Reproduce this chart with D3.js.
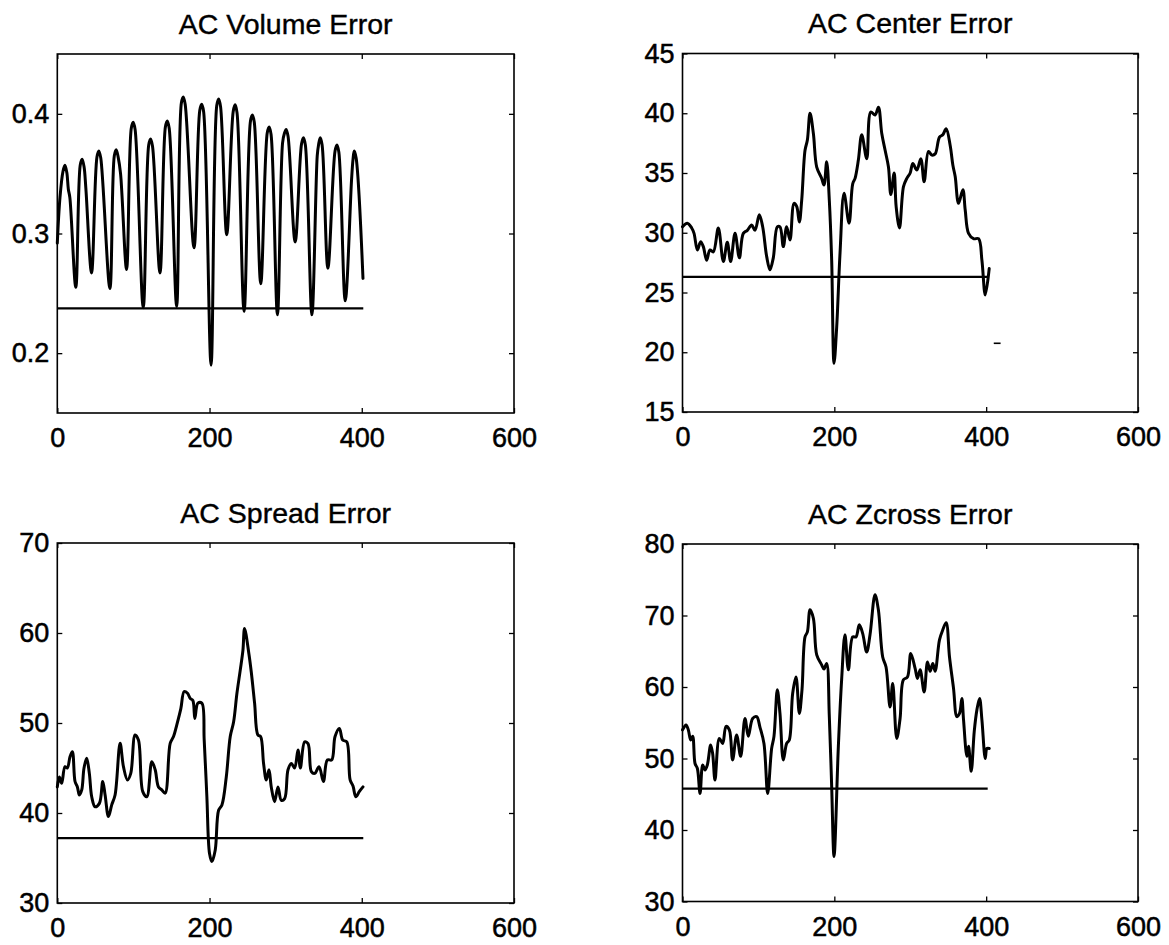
<!DOCTYPE html>
<html>
<head>
<meta charset="utf-8">
<script src="https://cdn.jsdelivr.net/npm/d3@7/dist/d3.min.js"></script>
<style>
  html, body { margin: 0; padding: 0; background: #fff; }
  svg { display: block; }
  .tick text { font-family: "Liberation Sans", Arial, Helvetica, sans-serif; font-size: 27px; fill: #000;
    stroke: #000; stroke-width: 0.5px; }
  .title { font-family: "Liberation Sans", Arial, Helvetica, sans-serif; font-size: 28.5px; fill: #000;
    stroke: #000; stroke-width: 0.4px; }
</style>
</head>
<body>
<svg id="chart" width="1169" height="945"></svg>
<script>
// ---- AC Volume Error ----
const volumeX = [0, 3.5, 7.5, 10, 12.5, 14.5, 16.5, 24.3, 30.1, 32.6, 35.1, 37.5, 45, 52.1, 54.6, 57.1, 69.1,
  74.9, 77.4, 79.9, 83.1, 91, 97.2, 99.7, 102.2, 112.9, 120.1, 122.6, 125.1, 134.9, 142, 144.5, 147, 156.8,
  163, 165.5, 168, 179.6, 187.2, 189.7, 192.2, 202, 209.5, 212, 214.5, 222.6, 231.1, 233.6, 236.1, 245.4,
  253.8, 256.3, 258.8, 267.3, 275.8, 278.3, 280.8, 289.2, 296, 298.5, 300.7, 303.2, 312.5, 320.9, 323.4,
  325.9, 334.5, 341.5, 343.2, 345.4, 347.9, 355.5, 364.9, 367.4, 369.9, 378.3, 386.5, 388.5, 390.1, 392.6, 401.6];
const volumeY = [0.292, 0.33, 0.352, 0.357, 0.351, 0.337, 0.33, 0.255, 0.357, 0.362, 0.356, 0.338, 0.267, 0.364,
  0.369, 0.363, 0.254, 0.365, 0.37, 0.364, 0.35, 0.27, 0.388, 0.393, 0.387, 0.238, 0.374, 0.379, 0.373, 0.267,
  0.389, 0.394, 0.388, 0.239, 0.409, 0.414, 0.408, 0.288, 0.403, 0.408, 0.402, 0.19, 0.407, 0.4125, 0.406,
  0.299, 0.402, 0.4075, 0.401, 0.235, 0.394, 0.399, 0.393, 0.258, 0.384, 0.389, 0.383, 0.232, 0.376, 0.384,
  0.387, 0.381, 0.293, 0.375, 0.38, 0.374, 0.232, 0.365, 0.374, 0.38, 0.374, 0.271, 0.369, 0.374, 0.368,
  0.2438, 0.344, 0.362, 0.369, 0.363, 0.2625];
const volumeLevel = 0.2375;

// ---- AC Center Error ----
const centerX = [0, 6.3, 12.1, 15.2, 19.6, 23.9, 27.4, 31.8, 36.2, 40.6, 47.2, 53.8, 59, 63.4, 69.2, 74.9, 80.1,
  85.4, 91.1, 95.5, 101.2, 105.6, 110.9, 115.2, 119.6, 124.9, 128.4, 132.8, 137.2, 141.6, 146.9, 150.4, 153.9,
  157, 161.4, 164.5, 168, 172.4, 176.8, 183.3, 186.4, 189.9, 193.4, 196.5, 199.6, 203.1, 207.5, 212.8, 219.4,
  224.2, 227.3, 231.7, 236.1, 242.7, 248, 253.7, 258.1, 262.5, 266.9, 271.3, 274.4, 278.8, 281.4, 285.8, 291.1,
  295.5, 299.9, 303.4, 308.7, 313.9, 318.3, 324, 328.4, 332.8, 338.5, 342.9, 347.3, 352.6, 356.1, 359.2, 363.6,
  369.3, 372.4, 376.8, 383.4, 390, 394.4, 398.8, 404];
const centerY = [30.5, 30.8, 30.4, 29.95, 28.56, 29.25, 28.84, 27.7, 28.56, 28.4, 30.4, 27.6, 29.2, 27.6, 29.95,
  27.9, 29.95, 30.2, 30.65, 30.2, 31.5, 30.5, 28, 26.9, 27.9, 30.5, 30.5, 28.84, 30.5, 29.4, 32.46, 32.2, 30.9,
  32.7, 36.9, 37.76, 40, 38.3, 35.5, 34.55, 34, 35.95, 32.7, 27.7, 19.07, 22.1, 28.3, 33.3, 30.8, 34.1, 34.55,
  36.1, 38.2, 36.2, 40.1, 39.85, 40.5, 38.3, 36.9, 35.5, 33.2, 35, 32.2, 30.4, 33.86, 34.55, 35, 35.8, 35.25,
  36.2, 34.27, 36.8, 36.5, 36.6, 38, 38.2, 38.7, 37.3, 35.67, 34.7, 32.46, 33.6, 31.9, 29.95, 29.5, 29.5, 27.7,
  24.8, 27];
const centerLevel = 26.3;
const centerSpeckX = [410, 419];
const centerSpeckY = [20.75, 20.75];

// ---- AC Spread Error ----
const spreadX = [0, 2.7, 5.75, 10.1, 13.2, 16.7, 19.8, 23.3, 26.4, 29, 32.1, 35.1, 38.6, 42.1, 45.2, 49.6, 55.3,
  59.7, 62.8, 67.2, 71.5, 75.9, 82.5, 86.9, 92.2, 96.5, 102.2, 106.6, 112.3, 117.6, 124.2, 128.6, 132.9, 137.3,
  141.7, 148.3, 152.7, 157, 162.3, 166.7, 171.1, 174.6, 178.1, 180.7, 184.7, 189.9, 193, 196.5, 200, 203.1,
  207.5, 211.9, 216.3, 222, 227.2, 231.6, 236, 240.4, 243.9, 246, 251.7, 254.8, 259.2, 263.5, 267.1, 271,
  274.6, 278.1, 281.1, 285.5, 289.9, 294.3, 298.7, 303.1, 307.5, 311.8, 316.2, 319.3, 325, 329.4, 333.8, 338.2,
  343.9, 349.6, 354.8, 360.5, 364.9, 370.6, 375, 380.3, 384.7, 388.5, 392.2, 396.9, 401.6];
const spreadY = [42.9, 44, 43.3, 45.15, 45, 46.26, 46.8, 43.5, 42.9, 42, 42.56, 45, 46.07, 44.4, 41.8, 40.7, 41.07,
  43.5, 42, 39.6, 40.9, 42, 47.74, 45.15, 43.67, 44.4, 48.67, 48.1, 42.37, 41.8, 45.7, 44.8, 42.9, 42.56, 42.2,
  47.74, 48.5, 49.8, 51.6, 53.5, 53.3, 52.74, 52.5, 50.5, 52.2, 52.2, 48.1, 41.8, 35.5, 34.6, 35.9, 40.3, 40.9,
  44, 48.5, 50.1, 53.3, 55.9, 58.1, 60.5, 57.7, 55.7, 52.2, 48.67, 48.5, 45.5, 43.67, 44.8, 42.9, 41.26, 42.9,
  41.4, 41.6, 44.8, 45.5, 45, 47, 45, 47.9, 47.7, 44.6, 44.4, 45.15, 43.5, 45.9, 45.9, 48.5, 49.4, 48.1, 47.9,
  43.67, 43, 41.8, 42.4, 42.9];
const spreadLevel = 37.2;

// ---- AC Zcross Error ----
const zcrossX = [0, 4.6, 7.7, 10.8, 13.4, 16.5, 19.6, 23.1, 26.6, 29.6, 32.7, 37.1, 39.7, 42.8, 48.5, 52.9, 57.3,
  61.7, 66, 71.3, 76.6, 82.3, 86.7, 92.4, 97.7, 102, 107.3, 112.2, 117.4, 120.5, 124.9, 128.4, 132.8, 137.2,
  140.7, 145.1, 149.5, 153.9, 157.4, 161.4, 164.5, 168, 172.4, 176.8, 183.3, 186.4, 189.9, 193.4, 196.5, 199.6,
  205.3, 209.6, 214, 218.5, 224.2, 228.5, 232.9, 237.3, 242.6, 247, 253.6, 258, 263.7, 268.1, 273.4, 276.9,
  282.2, 286.6, 291, 296.3, 300.7, 306.4, 309.5, 313, 318.3, 322.7, 326.2, 329.7, 332.8, 338.5, 342.9, 347.3,
  351.7, 357, 361.4, 364.9, 368, 370.2, 374.6, 376.8, 380.3, 384.3, 387.8, 391.3, 394.4, 398.8, 401, 404];
const zcrossY = [54, 54.7, 54, 52.6, 53.1, 49.3, 48.6, 45.1, 49.1, 48.4, 49.1, 51.9, 50.7, 47, 52.8, 52.1, 54.5, 54,
  49.8, 53.3, 50.3, 55.6, 53.1, 55.6, 55.85, 54.4, 52.1, 45.1, 51.4, 53.1, 59.6, 56.3, 49.8, 52.1, 52.6, 59.1,
  61.4, 56.3, 59.6, 67, 67.7, 70.8, 69.6, 64.5, 63.1, 62.5, 63.3, 55.85, 46.1, 36.3, 51.7, 61, 67.3, 62.4, 67,
  67, 68.7, 67.5, 64.9, 67.3, 72.9, 70.8, 64.2, 62.8, 57.2, 60.5, 52.8, 55.6, 61, 61.4, 64.7, 62.6, 61.2, 62.4,
  59.3, 63.5, 62.2, 63.3, 62.2, 66.6, 68, 69, 64.2, 59.8, 55.85, 56.3, 58.4, 55.4, 50.3, 51.7, 48.2, 53.8, 56.8,
  58.4, 55.4, 50, 51.4, 51.4];
const zcrossLevel = 45.8;

const levelEnd = 402;

// ---- shared tick values ----
const xTicks = [0, 200, 400, 600];
const volumeTicks = [0.2, 0.3, 0.4];
const centerTicks = [15, 20, 25, 30, 35, 40, 45];
const spreadTicks = [30, 40, 50, 60, 70];
const zcrossTicks = [30, 40, 50, 60, 70, 80];

// Panel frames (pixel boxes) and their series
const panels = [
  { title: "AC Volume Error", box: [57.3, 514, 54, 413], yDomain: [0.15, 0.45], yTicks: volumeTicks,
    fmt: d3.format(".1f"), xs: volumeX, ys: volumeY, level: volumeLevel },
  { title: "AC Center Error", box: [682.5, 1138, 53.5, 412], yDomain: [15, 45], yTicks: centerTicks,
    fmt: d3.format("d"), xs: centerX, ys: centerY, level: centerLevel, speck: [centerSpeckX, centerSpeckY] },
  { title: "AC Spread Error", box: [57.3, 514, 543, 903], yDomain: [30, 70], yTicks: spreadTicks,
    fmt: d3.format("d"), xs: spreadX, ys: spreadY, level: spreadLevel },
  { title: "AC Zcross Error", box: [682.5, 1138, 544, 901.5], yDomain: [30, 80], yTicks: zcrossTicks,
    fmt: d3.format("d"), xs: zcrossX, ys: zcrossY, level: zcrossLevel }
];

const svg = d3.select("#chart");
svg.append("rect").attr("width", 1169).attr("height", 945).attr("fill", "#fff");

panels.forEach(p => {
  const [x0, x1, y0, y1] = p.box;
  const x = d3.scaleLinear().domain([0, 600]).range([x0, x1]);
  const y = d3.scaleLinear().domain(p.yDomain).range([y1, y0]);
  const g = svg.append("g");

  // axes with inward ticks on all four sides
  const tick = 5;
  const left = g.append("g").attr("transform", `translate(${x0},0)`)
    .call(d3.axisLeft(y).tickValues(p.yTicks).tickFormat(p.fmt).tickSize(-tick).tickSizeOuter(0).tickPadding(8));
  const right = g.append("g").attr("transform", `translate(${x1},0)`)
    .call(d3.axisRight(y).tickValues(p.yTicks).tickFormat("").tickSize(-tick).tickSizeOuter(0));
  const bottom = g.append("g").attr("transform", `translate(0,${y1})`)
    .call(d3.axisBottom(x).tickValues(xTicks).tickFormat(d3.format("d")).tickSize(-tick).tickSizeOuter(0).tickPadding(15));
  const top = g.append("g").attr("transform", `translate(0,${y0})`)
    .call(d3.axisTop(x).tickValues(xTicks).tickFormat("").tickSize(-tick).tickSizeOuter(0));
  [left, right, bottom, top].forEach(a => {
    a.select(".domain").remove();
    a.selectAll(".tick line").attr("stroke", "#000").attr("stroke-width", 1.3);
  });

  // frame
  g.append("rect").attr("x", x0).attr("y", y0).attr("width", x1 - x0).attr("height", y1 - y0)
    .attr("fill", "none").attr("stroke", "#000").attr("stroke-width", 1.6);

  // title
  g.append("text").attr("class", "title").attr("x", (x0 + x1) / 2).attr("y", y0 - 20.5)
    .attr("text-anchor", "middle").text(p.title);

  // reference level
  g.append("line").attr("x1", x(0)).attr("x2", x(levelEnd))
    .attr("y1", y(p.level)).attr("y2", y(p.level))
    .attr("stroke", "#000").attr("stroke-width", 2.2);

  // error trace
  const pts = p.xs.map((v, i) => [v, p.ys[i]]);
  const line = d3.line().x(d => x(d[0])).y(d => y(d[1])).curve(d3.curveCatmullRom.alpha(0.5));
  g.append("path").datum(pts).attr("d", line)
    .attr("fill", "none").attr("stroke", "#000").attr("stroke-width", 3)
    .attr("stroke-linejoin", "round").attr("stroke-linecap", "round");

  if (p.speck) {
    const sp = p.speck[0].map((v, i) => [v, p.speck[1][i]]);
    g.append("path").datum(sp).attr("d", d3.line().x(d => x(d[0])).y(d => y(d[1])))
      .attr("fill", "none").attr("stroke", "#000").attr("stroke-width", 1.6);
  }
});
</script>
</body>
</html>
